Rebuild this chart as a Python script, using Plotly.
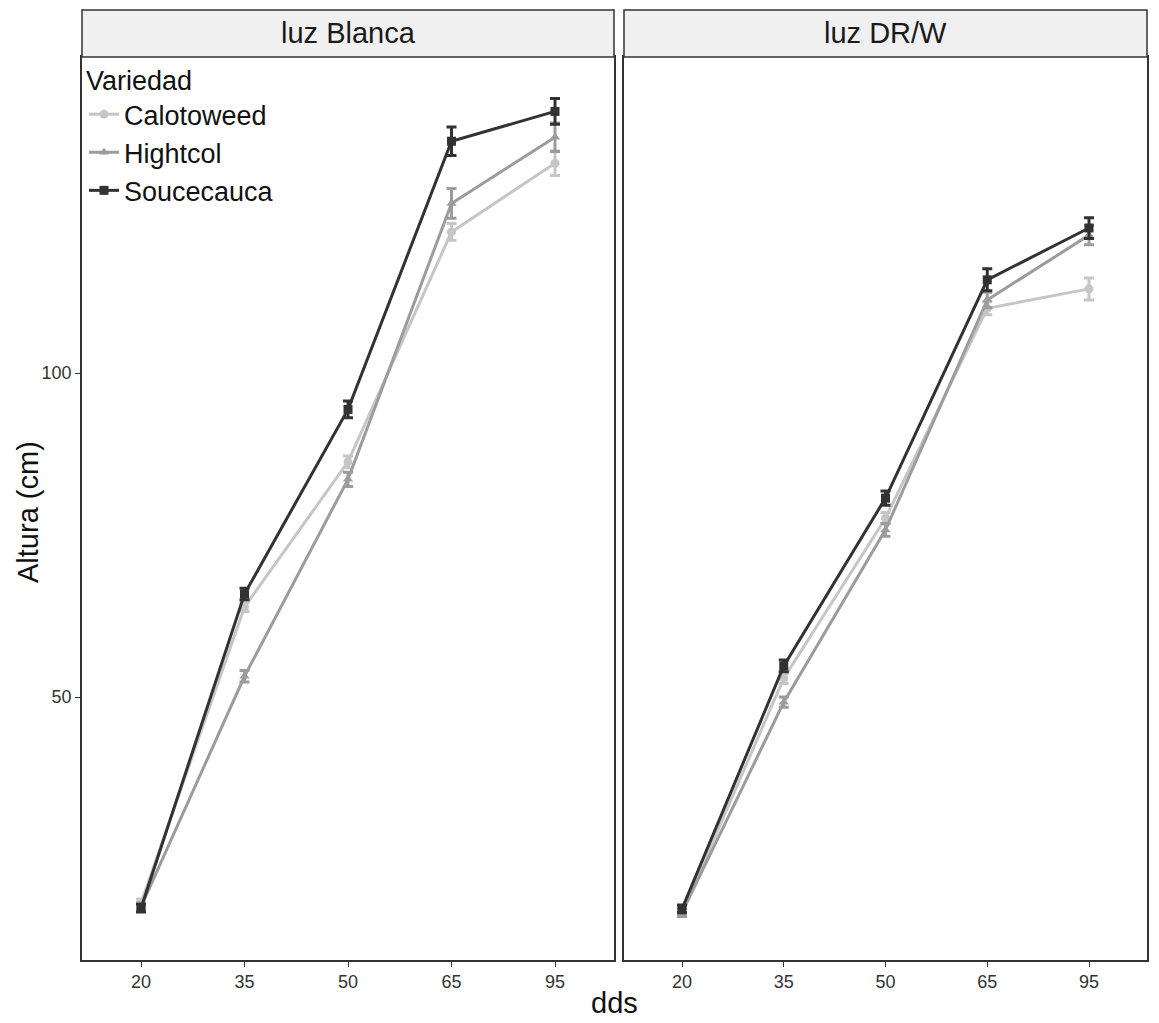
import plotly.graph_objects as go

dds = ["20", "35", "50", "65", "95"]
variedades = ["Calotoweed", "Hightcol", "Soucecauca"]
paneles = ["luz Blanca", "luz DR/W"]

# luz Blanca
blanca_calotoweed = [18.2, 63.9, 86.3, 121.8, 132.4]
blanca_hightcol = [17.6, 53.2, 83.6, 126.2, 136.4]
blanca_soucecauca = [17.4, 65.9, 94.4, 135.8, 140.4]
blanca_calotoweed_se = [0.6, 0.7, 0.9, 1.3, 1.9]
blanca_hightcol_se = [0.6, 0.9, 1.1, 2.3, 2.2]
blanca_soucecauca_se = [0.6, 0.9, 1.3, 2.2, 2.0]

# luz DR/W
drw_calotoweed = [16.7, 52.9, 77.6, 110.0, 113.0]
drw_hightcol = [16.7, 49.2, 75.8, 111.3, 121.3]
drw_soucecauca = [17.3, 54.8, 80.7, 114.4, 122.4]
drw_calotoweed_se = [0.6, 0.8, 0.9, 1.0, 1.7]
drw_hightcol_se = [0.6, 0.8, 1.0, 1.2, 1.5]
drw_soucecauca_se = [0.6, 0.9, 1.1, 1.7, 1.6]

y_ticks = [50, 100]

colores = {"Calotoweed": "#c6c6c6", "Hightcol": "#9c9c9c", "Soucecauca": "#323232"}
simbolos = {"Calotoweed": "circle", "Hightcol": "triangle-up", "Soucecauca": "square"}

datos = {
    "luz Blanca": {
        "Calotoweed": (blanca_calotoweed, blanca_calotoweed_se),
        "Hightcol": (blanca_hightcol, blanca_hightcol_se),
        "Soucecauca": (blanca_soucecauca, blanca_soucecauca_se),
    },
    "luz DR/W": {
        "Calotoweed": (drw_calotoweed, drw_calotoweed_se),
        "Hightcol": (drw_hightcol, drw_hightcol_se),
        "Soucecauca": (drw_soucecauca, drw_soucecauca_se),
    },
}

W, H = 1159, 1023
FONT = "Liberation Sans, Arial"
def px(x):
    return x / W
def py(y):
    return (H - y) / H

fig = go.Figure()
for i, panel in enumerate(paneles):
    xa = "x" if i == 0 else "x2"
    ya = "y" if i == 0 else "y2"
    for v in variedades:
        vals, se = datos[panel][v]
        fig.add_trace(go.Scatter(
            x=dds, y=vals, mode="lines+markers", name=v,
            xaxis=xa, yaxis=ya, showlegend=(i == 0), legendgroup=v,
            line=dict(color=colores[v], width=3),
            marker=dict(symbol=simbolos[v], size=9, color=colores[v]),
            error_y=dict(type="data", array=se, color=colores[v], thickness=3, width=5),
        ))

y_top, y_bot = 57, 960
axis_common = dict(showline=True, linecolor="#333333", linewidth=1.5, mirror=True,
                   ticklen=5, tickcolor="#333333", showgrid=False,
                   zeroline=False, tickfont=dict(family=FONT, size=18, color="#333333"))

fig.update_layout(
    width=W, height=H, margin=dict(l=0, r=0, t=0, b=0),
    plot_bgcolor="white", paper_bgcolor="white",
    xaxis=dict(domain=[px(82), px(614)], range=[-0.57, 4.57], type="category",
               anchor="y", ticks="outside", **axis_common),
    xaxis2=dict(domain=[px(624), px(1147)], range=[-0.57, 4.57], type="category",
                anchor="y2", ticks="outside", **axis_common),
    yaxis=dict(domain=[py(y_bot), py(y_top)], range=[9.4, 148.8], tickvals=y_ticks,
               anchor="x", ticks="outside", **axis_common),
    yaxis2=dict(domain=[py(y_bot), py(y_top)], range=[9.4, 148.8], tickvals=y_ticks,
                anchor="x2", showticklabels=False, ticks="", **axis_common),
    legend=dict(x=px(84), y=py(55), xanchor="left", yanchor="top",
                bgcolor="rgba(0,0,0,0)",
                title=dict(text="Variedad", font=dict(family=FONT, size=27, color="#111111")),
                font=dict(family=FONT, size=27, color="#111111"),
                tracegroupgap=0, itemwidth=30),
    font=dict(family=FONT),
)

# strips
strips = [(82, 614, "luz Blanca"), (624, 1147, "luz DR/W")]
for x0, x1, label in strips:
    fig.add_shape(type="rect", xref="paper", yref="paper",
                  x0=px(x0), x1=px(x1), y0=py(57), y1=py(10),
                  fillcolor="#f0f0f0", line=dict(color="#333333", width=1.5))
    fig.add_annotation(x=(px(x0) + px(x1)) / 2, y=(py(57) + py(10)) / 2,
                       xref="paper", yref="paper", text=label, showarrow=False,
                       xanchor="center", yanchor="middle",
                       font=dict(family=FONT, size=29, color="#1a1a1a"))

fig.add_annotation(x=px(28), y=py(512), xref="paper", yref="paper", text="Altura (cm)",
                   showarrow=False, textangle=-90, xanchor="center", yanchor="middle",
                   font=dict(family=FONT, size=29, color="#111111"))
fig.add_annotation(x=px(614), y=py(1003), xref="paper", yref="paper", text="dds",
                   showarrow=False, xanchor="center", yanchor="middle",
                   font=dict(family=FONT, size=29, color="#111111"))

fig.write_html("out.html", config={"displayModeBar": False},
               post_script="document.body.style.margin='0';")
